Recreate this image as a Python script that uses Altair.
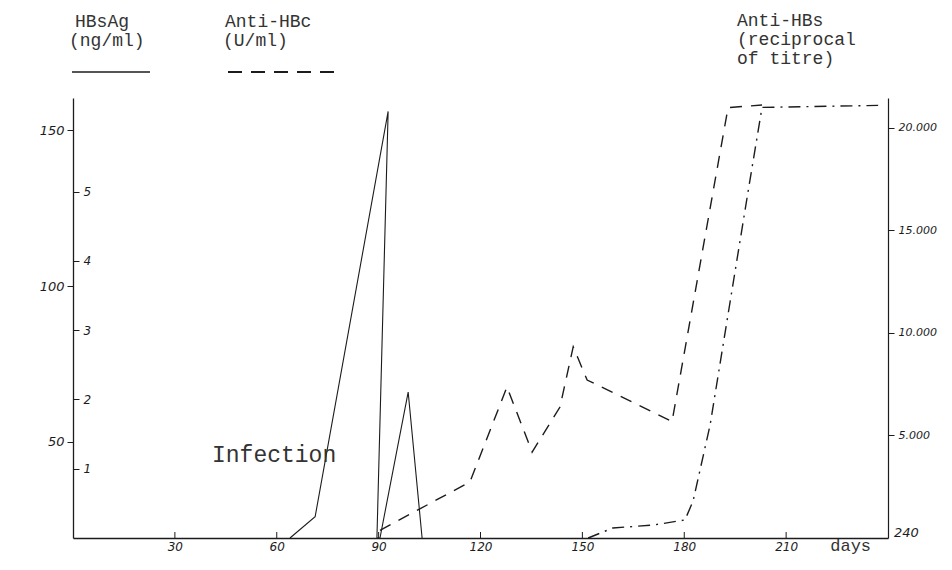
import altair as alt
import pandas as pd

# ---- data ----
# HBsAg (ng/ml), solid line
hbsag_days = [63.9, 71.3, 92.8, 89.5, 90.4, 98.7, 102.8]
hbsag_vals = [0, 26, 156, 0, 0, 66, 0]

# Anti-HBc (U/ml), dashed line
hbc_days = [90.4, 116.9, 127.8, 135.2, 143.4, 147.3, 151.4, 176.4, 192.9, 202.9]
hbc_vals = [0.11, 0.81, 2.18, 1.24, 1.89, 2.76, 2.28, 1.68, 6.21, 6.25]

# Anti-HBs (reciprocal of titre), dash-dot line
hbs_days = [151.7, 159.0, 170.8, 180.2, 182.6, 187.6, 192.6, 198.8, 202.9, 237.1]
hbs_vals = [0, 490, 630, 880, 1800, 5500, 10600, 16900, 21000, 21100]

# axis ticks / labels
day_ticks = [30, 60, 90, 120, 150, 180, 210]
ng_ticks = [50, 100, 150]
u_ticks = [1, 2, 3, 4, 5]
titre_ticks = [5000, 10000, 15000, 20000]

W, H = 815, 440
INK = "#1c1c1c"
TYPE = "Liberation Mono"
HAND = "DejaVu Sans"

df_s = pd.DataFrame({"day": hbsag_days, "v": hbsag_vals, "i": list(range(len(hbsag_days)))})
df_c = pd.DataFrame({"day": hbc_days, "v": hbc_vals, "i": list(range(len(hbc_days)))})
df_b = pd.DataFrame({"day": hbs_days, "v": hbs_vals, "i": list(range(len(hbs_days)))})
df_t = pd.DataFrame({"day": day_ticks})

x_scale = alt.Scale(domain=[0, 240], nice=False, zero=True)
x_axis = alt.Axis(values=day_ticks, title=None, ticks=False, labelPadding=3, grid=False,
                  domainColor=INK, domainWidth=1.3, labelColor=INK, labelFont=HAND,
                  labelFontSize=12, labelFontStyle="italic")

line_s = alt.Chart(df_s).mark_line(color=INK, strokeWidth=1.1).encode(
    x=alt.X("day:Q", scale=x_scale, axis=x_axis),
    y=alt.Y("v:Q", scale=alt.Scale(domain=[19.2, 160.3], zero=False, nice=False, clamp=True),
            axis=alt.Axis(orient="left", values=ng_ticks, title=None, grid=False, tickSize=6,
                          tickColor=INK, domainColor=INK, domainWidth=1.3, labelPadding=3,
                          labelColor=INK, labelFont=HAND, labelFontSize=13, labelFontStyle="italic")),
    order="i:Q",
)

line_c = alt.Chart(df_c).mark_line(color=INK, strokeWidth=1.4, strokeDash=[12, 9]).encode(
    x=alt.X("day:Q", scale=x_scale, axis=x_axis),
    y=alt.Y("v:Q", scale=alt.Scale(domain=[0, 6.35], zero=True, nice=False),
            axis=alt.Axis(orient="right", offset=-W, values=u_ticks, title=None, grid=False,
                          domain=False, tickSize=6, tickColor=INK, labelPadding=4,
                          labelColor=INK, labelFont=HAND, labelFontSize=12, labelFontStyle="italic")),
    order="i:Q",
)

line_b = alt.Chart(df_b).mark_line(color=INK, strokeWidth=1.4, strokeDash=[12, 6, 2, 6]).encode(
    x=alt.X("day:Q", scale=x_scale, axis=x_axis),
    y=alt.Y("v:Q", scale=alt.Scale(domain=[0, 21460], zero=True, nice=False),
            axis=alt.Axis(orient="right", values=titre_ticks, title=None, grid=False,
                          tickSize=6, tickColor=INK, domainColor=INK, domainWidth=1.2,
                          labelPadding=4, labelColor=INK, labelFont=HAND, labelFontSize=11,
                          labelFontStyle="italic",
                          labelExpr="format(datum.value / 1000, 'd') + '.000'")),
    order="i:Q",
)

ticks = alt.Chart(df_t).mark_rule(color=INK, strokeWidth=1).encode(
    x=alt.X("day:Q", scale=x_scale, axis=x_axis),
    y=alt.value(H),
    y2=alt.value(H - 6),
)

def txt(s, x, y, size=18, font=TYPE, align="left", style="normal"):
    return alt.Chart(pd.DataFrame({"t": [s]})).mark_text(
        font=font, fontSize=size, align=align, baseline="middle", color="#333", fontStyle=style
    ).encode(text="t:N", x=alt.value(x), y=alt.value(y))

headers = [
    txt("HBsAg", 2, -76), txt("(ng/ml)", -4, -57),
    txt("Anti-HBc", 152, -76), txt("(U/ml)", 150, -57),
    txt("Anti-HBs", 664, -77), txt("(reciprocal", 664, -58), txt("of titre)", 664, -39),
    txt("Infection", 139, 357, size=23),
]

key_solid = alt.Chart(pd.DataFrame({"k": [0]})).mark_rule(color=INK, strokeWidth=1.6).encode(
    x=alt.value(-1), x2=alt.value(77), y=alt.value(-26))
key_dash = alt.Chart(pd.DataFrame({"k": [0]})).mark_rule(color=INK, strokeWidth=1.8, strokeDash=[14, 9]).encode(
    x=alt.value(155), x2=alt.value(269), y=alt.value(-26))

lbl240 = alt.Chart(pd.DataFrame({"t": ["240"]})).mark_text(
    font=HAND, fontSize=13, fontStyle="italic", color=INK, align="left", baseline="middle", dx=6
).encode(text="t:N", x=alt.datum(240), y=alt.value(H - 5))

days_lbl = alt.Chart(pd.DataFrame({"t": ["days"]})).mark_text(
    font=TYPE, fontSize=17, color="#333", align="center", baseline="middle"
).encode(text="t:N", x=alt.datum(229), y=alt.value(H + 8))

chart = alt.layer(
    line_s, line_c, line_b, ticks, key_solid, key_dash, lbl240, days_lbl, *headers
).resolve_scale(y="independent").properties(
    width=W, height=H,
    autosize=alt.AutoSizeParams(type="none"),
    padding={"left": 65, "top": 90, "right": 56, "bottom": 18},
).configure_view(strokeWidth=0)

chart.save("out.html", embed_options={"renderer": "svg", "actions": False})
